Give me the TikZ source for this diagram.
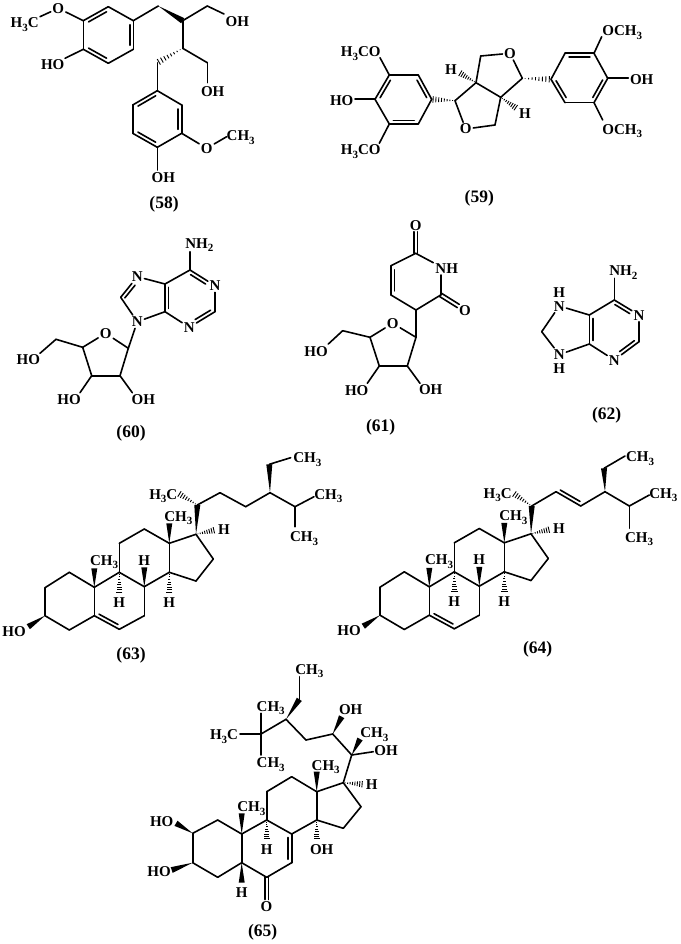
\documentclass[tikz,border=0pt]{standalone}
\usepackage{fontspec}
\setmainfont{Liberation Serif}
\usetikzlibrary{calc}
\newcommand\subn[1]{\raisebox{-3.5pt}{\fontsize{11}{11}\selectfont #1}}
\tikzset{
  bond/.style={line width=1.6pt,line cap=round,line join=round,black},
  lab/.style={font=\bfseries\fontsize{15}{15}\selectfont,inner sep=0pt,text height=10pt,text depth=0pt,black},
  atom/.style={lab,inner sep=1.5pt},
  captxt/.style={font=\bfseries\fontsize{17.5}{18}\selectfont,inner sep=0pt,black},
}
\newcommand\pts[1]{\foreach \n/\x/\y in {#1}{\coordinate (\n) at (\x,\y);}}
\newcommand\atoms[1]{\foreach \n/\x/\y/\tx in {#1}{\node[atom] (\n) at (\x,\y) {\tx};}}
\newcommand\labs[1]{\foreach \n/\x/\y/\tx in {#1}{\node[lab] (\n) at (\x,\y) {\tx};}}
\newcommand\bonds[1]{\foreach \pa/\pb in {#1}{\draw[bond] (\pa)--(\pb);}}
% inner line of a double bond, on the left of the direction a->b
\newcommand\dbl[4]{\draw[bond] ($(#1)!#3!(#2)!3.6pt!90:(#2)$)--($(#2)!#4!(#1)!3.6pt!-90:(#1)$);}
% symmetric double bond
\newcommand\dbs[2]{\draw[bond] ($(#1)!1.9pt!90:(#2)$)--($(#2)!1.9pt!-90:(#1)$);
  \draw[bond] ($(#1)!1.9pt!-90:(#2)$)--($(#2)!1.9pt!90:(#1)$);}
% wedge, narrow at a
\newcommand\wdg[2]{\fill[black] (#1)--($(#2)!3pt!90:(#1)$)--($(#2)!3pt!-90:(#1)$)--cycle;}
% hashed wedge, narrow at a
\newcommand\hsh[2]{\foreach \fr in {.1,.22,.34,.46,.58,.7,.82,.94}{\pgfmathsetmacro\ww{3.4*\fr}
  \draw[line width=.9pt,black] ($(#1)!\fr!(#2)!\ww pt!90:(#2)$)--($(#1)!\fr!(#2)!\ww pt!-90:(#2)$);}}
% steroid nucleus shared by 63 and 64
\newcommand\stcore{%
  \pts{c3/45/615.7,c2/45/587.7,c1/69.3/572.3,c10/94.3/587.3,c5/94.3/615.7,c4/69.3/630,c6/119.3/629.3,c7/144.3/615.7,
       c8/144.3/586.7,c9/119.3/572.3,c11/119.3/543.3,c12/144.3/529,c13/169.3/543.3,c14/169.3/572.3,c15/196/581,c16/213.3/559,c17/196/534.3,
       w10/94.3/568.3,h9/119.3/593.3,w8/144.3/567.3,h14/169.3/593.3,w13/169.3/523.3,h17/215/530,wo/28.3/626.7}
  \bonds{c3/c2,c2/c1,c1/c10,c10/c5,c5/c4,c4/c3,c5/c6,c6/c7,c7/c8,c8/c9,c9/c10,c9/c11,c11/c12,c12/c13,c13/c14,c14/c8,c14/c15,c15/c16,c16/c17,c17/c13}
  \dbl{c5}{c6}{.12}{.12}
  \wdg{c10}{w10}\wdg{c8}{w8}\wdg{c13}{w13}\wdg{c3}{wo}
  \hsh{c9}{h9}\hsh{c14}{h14}\hsh{c17}{h17}
  \labs{lm10/104/560/{CH\subn{3}},lh9/119.3/602.3/H,lh8/144.3/560/H,lh14/169.3/602.3/H,lm13/178.3/516/{CH\subn{3}},lh17/224/529.3/H,lho/14/631/HO}
}
\begin{document}
\begin{tikzpicture}[x=1pt,y=-1pt]
\useasboundingbox (0,0) rectangle (680,944);
\fill[white] (0,0) rectangle (680,944);

% ---------- 58
\begin{scope}[name prefix=m58-]
\pts{a1/133.3/20.7,a2/108.3/6.7,a3/83.3/20.7,a4/83.3/49.3,a5/108.3/63.3,a6/133.3/49.3,
     b1/157.3/90.7,b2/181.7/105,b3/181.7/133.3,b4/157.3/147.3,b5/132.7/133.3,b6/132.7/105,
     c1/158.3/6,c2/182.7/20.7,c3/182.7/48.3,c4/207.3/62.7,c5/157.3/62.7,c6/207.3/6,
     e1/40/16.7,e2/65/58.3,e3/224/14,e4/207.3/82.7,e5/226.7/136.7,e6/157.3/170}
\atoms{o1/58.3/8.3/O,o2/206.7/148.3/O}
\labs{t1/24.7/22.7/{H\subn{3}C},t2/52.7/65/HO,t3/237.3/21.7/OH,t4/212.7/91.7/OH,t5/240.7/136/{CH\subn{3}},t6/163.3/177.3/OH}
\bonds{a1/a2,a2/a3,a3/a4,a4/a5,a5/a6,a6/a1,b1/b2,b2/b3,b3/b4,b4/b5,b5/b6,b6/b1,
  a3/o1,o1/e1,a4/e2,a1/c1,c2/c3,c2/c6,c6/e3,c3/c4,c4/e4,c5/b1,b3/o2,o2/e5,b4/e6}
\dbl{a2}{a3}{.14}{.14}\dbl{a4}{a5}{.14}{.14}\dbl{a6}{a1}{.14}{.14}
\dbl{b1}{b6}{.14}{.14}\dbl{b3}{b2}{.14}{.14}\dbl{b5}{b4}{.14}{.14}
\wdg{c1}{c2}\hsh{c3}{c5}
\node[captxt] (k58) at (164,204) {(58)};
\end{scope}

% ---------- 59
\begin{scope}[name prefix=m59-]
\pts{l1/431.7/99.3,l2/418.3/75,l3/389.3/75,l4/375/99.3,l5/389.3/124,l6/418.3/124,
     r1/551/79.3,r2/565/53.3,r3/594/53.3,r4/607.7/78.3,r5/594/102.7,r6/565/102.7,
     c1/455/100.7,c2/476/82.7,c3/500.7/97.3,c4/495/125,c5/480.7/56,c6/522.3/78.3,
     e1/380/57.7,e2/355/99.3,e3/379.3/143.3,e4/601.7/36.7,e5/628.3/78.3,e6/602.7/120,h1/459.3/72.7,h2/516.7/108.3}
\atoms{o1/465.7/129/O,o2/510/53.3/O}
\labs{t1/360.7/51.7/{H\subn{3}CO},t2/341.7/100.7/HO,t3/360.7/150/{H\subn{3}CO},t4/622.3/30.7/{OCH\subn{3}},t5/641.7/79.3/OH,t6/622.3/129.3/{OCH\subn{3}},t7/451/70/H,t8/525/113.3/H}
\bonds{l1/l2,l2/l3,l3/l4,l4/l5,l5/l6,l6/l1,r1/r2,r2/r3,r3/r4,r4/r5,r5/r6,r6/r1,
  l3/e1,l4/e2,l5/e3,r3/e4,r4/e5,r5/e6,c1/o1,o1/c4,c4/c3,c1/c2,c2/c3,c2/c5,c5/o2,o2/c6,c6/c3}
\dbl{l1}{l2}{.14}{.14}\dbl{l3}{l4}{.14}{.14}\dbl{l5}{l6}{.14}{.14}
\dbl{r3}{r2}{.14}{.14}\dbl{r5}{r4}{.14}{.14}\dbl{r1}{r6}{.14}{.14}
\hsh{c1}{l1}\hsh{c6}{r1}\hsh{c2}{h1}\hsh{c3}{h2}
\node[captxt] (k59) at (479.3,198.3) {(59)};
\end{scope}

% ---------- 60
\begin{scope}[name prefix=m60-]
\pts{c6/190/270,c2/215/311.7,c4/165/311.7,c5/165/284,c8/120.7/297.3,e1/190/251.7,
     f1/128.3/348.3,f4/82.7/347.3,f3/91.7/375.7,f2/120/375.7,ch/56/339.3,e2/40/353.3,e3/80/392.7,e4/132.3/392.7}
\atoms{n1/215/285.7/N,n3/189.3/327.3/N,n7/137.3/276.7/N,n9/137.3/321.7/N,o/105.7/333.3/O}
\labs{t1/199.3/243.3/{NH\subn{2}},t2/28.3/359.3/HO,t3/69/399.3/HO,t4/143.3/399.3/OH}
\bonds{c6/e1,c6/n1,n1/c2,c2/n3,n3/c4,c4/c5,c5/c6,c5/n7,n7/c8,c8/n9,n9/c4,n9/f1,f1/o,o/f4,f4/f3,f3/f2,f2/f1,f4/ch,ch/e2,f3/e3,f2/e4}
\dbl{n1}{c6}{.3}{.1}\dbl{n3}{c2}{.3}{.1}\dbl{c5}{c4}{.12}{.12}\dbl{n7}{c8}{.3}{.08}
\node[captxt] (k60) at (131,433) {(60)};
\end{scope}

% ---------- 61
\begin{scope}[name prefix=m61-]
\pts{a1/415.7/253.3,e1/433.3/262.7,e2/440.7/275,a2/440.7/295,a3/416/310,a4/391/295,a5/391/265.7,e3/415.7/231.7,e4/458.3/306,
     f1/416/337.3,f4/370/337.3,f3/379.3/366,f2/407.3/366,ch/342.7/330.7,e5/328.3/344,e6/367.3/383.3,e7/420/383.3}
\atoms{o/392.7/323.3/O,o1/415.7/225/O,o2/465/310/O}
\labs{t1/446.7/268.3/NH,t2/316/351/HO,t3/356.7/390/HO,t4/430.7/389.3/OH}
\bonds{a1/e1,e2/a2,a2/a3,a3/a4,a4/a5,a5/a1,a3/f1,f1/o,o/f4,f4/f3,f3/f2,f2/f1,f4/ch,ch/e5,f3/e6,f2/e7}
\dbs{a1}{e3}\dbs{a2}{e4}\dbl{a5}{a4}{.14}{.14}
\node[captxt] (k61) at (380.7,427.3) {(61)};
\end{scope}

% ---------- 62
\begin{scope}[name prefix=m62-]
\pts{c6/614.3/300,e1/614.3/278.3,c2/639/341.7,c4/589.3/344,c5/589.3/315,c8/541.7/331.7}
\atoms{n1/639/315/N,n3/614.3/360/N,n7/559.3/306/N,n9/559.3/354.6/N}
\labs{t1/623.3/270.7/{NH\subn{2}},t2/559.3/292.7/H,t3/559.3/368/H}
\bonds{c6/e1,c6/n1,n1/c2,c2/n3,n3/c4,c4/c5,c5/c6,c5/n7,n7/c8,c8/n9,n9/c4}
\dbl{n1}{c6}{.3}{.1}\dbl{n3}{c2}{.3}{.1}\dbl{c5}{c4}{.12}{.12}
\node[captxt] (k62) at (606.7,415) {(62)};
\end{scope}

% ---------- 63
\begin{scope}[name prefix=m63-]
\stcore
\pts{c20/197.3/505,h21/178.3/493.3,c22/220/492.7,c23/245.7/506.7,c24/270/492.7,w24/269.3/464.3,e1/290.7/457.7,c25/295/506.7,e2/314/496.7,e3/295/526.7}
\labs{s1/163.3/494.3/{H\subn{3}C},s2/307.3/457.7/{CH\subn{3}},s3/328.3/494.3/{CH\subn{3}},s4/304/536.7/{CH\subn{3}}}
\bonds{c20/c22,c22/c23,c23/c24,w24/e1,c24/c25,c25/e2,c25/e3}
\wdg{c17}{c20}\hsh{c20}{h21}\wdg{c24}{w24}
\node[captxt] (k63) at (131,655) {(63)};
\end{scope}

% ---------- 64
\begin{scope}[name prefix=m64-]
\begin{scope}[shift={(335,-0.5)}]
\stcore
\end{scope}
\pts{c20/531.7/506,h21/513.3/493.3,c22/556/491.7,c23/580.7/506,c24/605/491.7,w24/604/468.3,e1/625/456,c25/629.3/506,e2/649.3/495,e3/629.3/528.3}
\labs{s1/497.7/493.3/{H\subn{3}C},s2/640/456.7/{CH\subn{3}},s3/663.3/493.3/{CH\subn{3}},s4/639/537.3/{CH\subn{3}}}
\bonds{c20/c22,c22/c23,c23/c24,w24/e1,c24/c25,c25/e2,c25/e3}
\dbl{c22}{c23}{.1}{.1}
\wdg{c17}{c20}\hsh{c20}{h21}\wdg{c24}{w24}
\node[captxt] (k64) at (537.7,649) {(64)};
\end{scope}

% ---------- 65
\begin{scope}[name prefix=m65-]
\pts{c2/192.7/833.3,c3/192.7/862.7,c4/217.7/877.3,c5/241.7/862.7,c10/241.7/834,c1/217.7/820,c6/266.7/877.3,c7/291.7/862.7,c8/291.7/834,c9/266.7/820,
     c11/266.7/791.7,c12/291.7/776.7,c13/316.7/791.7,c14/316.7/820,c15/343.3/828.3,c16/361/806.7,c17/343.3/782.7,c20/351.7/755,c22/332.7/734,c23/306/740,c24/286/719.3,c25/261/734,
     w1/299.3/699.3,e1/299.3/676.7,e2/261/713.3,e3/240/734,e4/261/755,w2/341.7/716.7,w3/360/739,e5/373.3/751.7,h1/363.3/784.3,w4/316.7/771.7,w5/241.7/813.3,
     h2/266.7/840,h3/316.7/840,w6/241.7/882.7,e6/266.7/899.5,w7/176/823.3,w8/171.7/870}
\atoms{o/266.5/906.7/O}
\labs{t1/309.3/669.3/{CH\subn{3}},t2/270.7/706/{CH\subn{3}},t3/224/734.7/{H\subn{3}C},t4/270.7/762.7/{CH\subn{3}},t5/350.7/709.3/OH,t6/374.3/732.7/{CH\subn{3}},t7/386/750/OH,
  t8/371.7/784/H,t9/325.7/765/{CH\subn{3}},t10/251.3/806.7/{CH\subn{3}},t11/266.7/849.3/H,t12/321.7/849.3/OH,t13/241.7/892.7/H,t14/161.7/821.7/HO,t15/159/871/HO}
\bonds{c2/c3,c3/c4,c4/c5,c5/c10,c10/c1,c1/c2,c5/c6,c6/c7,c7/c8,c8/c9,c9/c10,c9/c11,c11/c12,c12/c13,c13/c14,c14/c8,c14/c15,c15/c16,c16/c17,c17/c13,c17/c20,c20/c22,c22/c23,c23/c24,c24/c25,
  w1/e1,c25/e2,c25/e3,c25/e4,c20/e5}
\dbl{c7}{c8}{.12}{.12}\dbs{c6}{e6}
\wdg{c24}{w1}\wdg{c22}{w2}\wdg{c20}{w3}\wdg{c13}{w4}\wdg{c10}{w5}\wdg{c5}{w6}\wdg{c2}{w7}\wdg{c3}{w8}
\hsh{c17}{h1}\hsh{c9}{h2}\hsh{c14}{h3}
\node[captxt] (k65) at (262.7,932.7) {(65)};
\end{scope}
\end{tikzpicture}
\end{document}
